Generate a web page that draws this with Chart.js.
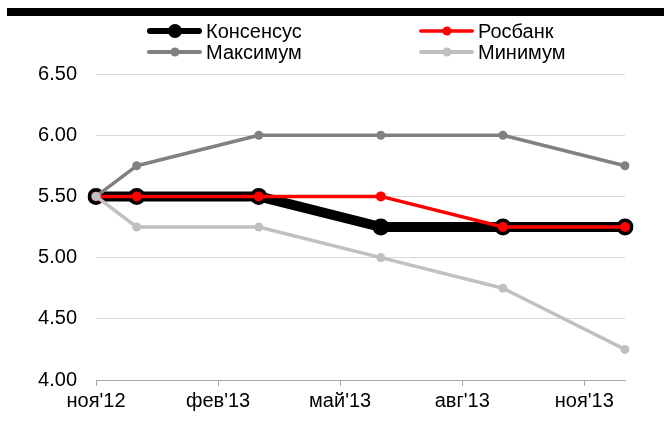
<!DOCTYPE html>
<html>
<head>
<meta charset="utf-8">
<script src="https://cdn.jsdelivr.net/npm/chart.js@4/dist/chart.umd.min.js"></script>
<style>
  html, body { margin: 0; padding: 0; background: #fff; }
  #wrap { position: relative; width: 664px; height: 423px; }
  #bar { position: absolute; left: 7px; top: 8px; width: 657px; height: 8px; background: #000; }
</style>
</head>
<body>
<div id="wrap">
  <canvas id="rateChart" width="664" height="423"></canvas>
  <div id="bar"></div>
</div>
<script>
const months = ["ноя'12", "дек'12", "янв'13", "фев'13", "мар'13", "апр'13", "май'13",
                "июн'13", "июл'13", "авг'13", "сен'13", "окт'13", "ноя'13", "дек'13"]
const consensus = [5.5, 5.5, null, null, 5.5, null, null, 5.25, null, null, 5.25, null, null, 5.25]
const rosbank   = [5.5, 5.5, null, null, 5.5, null, null, 5.5, null, null, 5.25, null, null, 5.25]
const maximum   = [5.5, 5.75, null, null, 6.0, null, null, 6.0, null, null, 6.0, null, null, 5.75]
const minimum   = [5.5, 5.25, null, null, 5.25, null, null, 5.0, null, null, 4.75, null, null, 4.25]
const yTicks = [4.0, 4.5, 5.0, 5.5, 6.0, 6.5]

const FONT = "'Liberation Sans', Arial, sans-serif"

// legend drawn by hand: two columns, line with a dot like the original
const lineLegend = {
    id: "lineLegend",
    afterDraw(chart) {
        const ctx = chart.ctx
        const cols = [147, 419]
        const rows = [31, 52]
        chart.data.datasets.forEach((ds, i) => {
            const x = cols[i % 2]
            const y = rows[Math.floor(i / 2)]
            ctx.save()
            ctx.strokeStyle = ds.borderColor
            ctx.lineWidth = ds.legendWidth
            ctx.lineCap = "round"
            ctx.beginPath()
            ctx.moveTo(x + ds.legendWidth / 2, y)
            ctx.lineTo(x + 55 - ds.legendWidth / 2, y)
            ctx.stroke()
            ctx.fillStyle = ds.pointBackgroundColor
            ctx.beginPath()
            ctx.arc(x + 28, y, ds.legendDot, 0, Math.PI * 2)
            ctx.fill()
            ctx.fillStyle = "#000"
            ctx.font = "20px " + FONT
            ctx.textBaseline = "middle"
            ctx.fillText(ds.label, x + 59, y + 1)
            ctx.restore()
        })
    }
}

new Chart(document.getElementById("rateChart"), {
    type: "line",
    data: {
        labels: months,
        datasets: [
            {
                label: "Консенсус", data: consensus, order: 4,
                borderColor: "#000", borderWidth: 10,
                pointBackgroundColor: "#000", pointBorderColor: "#000", pointRadius: 8.5, pointBorderWidth: 0,
                legendWidth: 6, legendDot: 7
            },
            {
                label: "Росбанк", data: rosbank, order: 3,
                borderColor: "#ff0000", borderWidth: 3.5,
                pointBackgroundColor: "#ff0000", pointBorderColor: "#ff0000", pointRadius: 5, pointBorderWidth: 0,
                legendWidth: 3.5, legendDot: 4.5
            },
            {
                label: "Максимум", data: maximum, order: 2,
                borderColor: "#808080", borderWidth: 3.5,
                pointBackgroundColor: "#808080", pointBorderColor: "#808080", pointRadius: 4.5, pointBorderWidth: 0,
                legendWidth: 4, legendDot: 4.5
            },
            {
                label: "Минимум", data: minimum, order: 1,
                borderColor: "#c0c0c0", borderWidth: 3.5,
                pointBackgroundColor: "#c0c0c0", pointBorderColor: "#c0c0c0", pointRadius: 4.5, pointBorderWidth: 0,
                legendWidth: 4, legendDot: 4.5
            }
        ]
    },
    options: {
        responsive: false,
        animation: false,
        spanGaps: true,
        elements: { line: { tension: 0, borderJoinStyle: "round" } },
        layout: { padding: { top: 74, right: 39, left: 0, bottom: 0 } },
        plugins: { legend: { display: false }, tooltip: { enabled: false } },
        scales: {
            x: {
                offset: false,
                grid: { display: true, drawOnChartArea: false, drawTicks: true, tickLength: 6, color: "#a6a6a6" },
                border: { display: true, color: "#a6a6a6", width: 1 },
                ticks: {
                    autoSkip: false, maxRotation: 0, padding: 3, color: "#000",
                    font: { family: FONT, size: 20 },
                    callback: function (v, i) { return i % 3 === 0 ? months[i] : null }
                },
                afterFit(s) { s.height = 43 }
            },
            y: {
                min: 4, max: 6.5,
                afterBuildTicks(s) { s.ticks = yTicks.map(v => ({ value: v })) },
                grid: { color: "#d9d9d9", drawTicks: false },
                border: { display: false },
                ticks: {
                    padding: 19, color: "#000",
                    font: { family: FONT, size: 20 },
                    callback: v => v.toFixed(2)
                },
                afterFit(s) { s.width = 96 }
            }
        }
    },
    plugins: [lineLegend]
})
</script>
</body>
</html>
